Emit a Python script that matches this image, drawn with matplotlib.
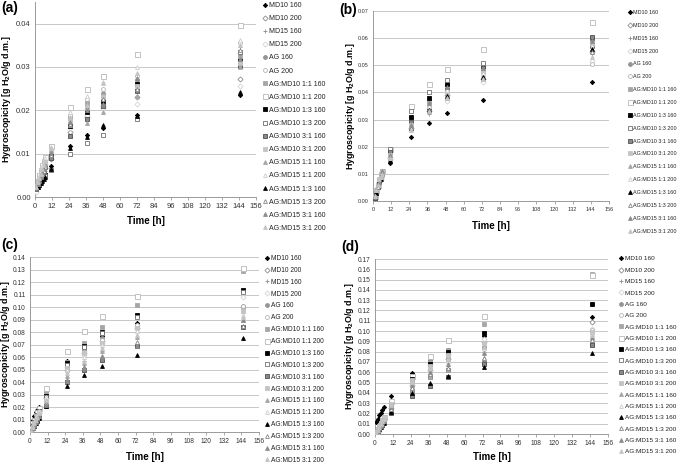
import matplotlib
matplotlib.use("Agg")
import matplotlib.pyplot as plt

plt.rcParams["font.family"] = ["Liberation Sans", "DejaVu Sans"]
plt.rcParams["mathtext.fontset"] = "custom"
plt.rcParams["mathtext.rm"] = "Liberation Sans"
plt.rcParams["mathtext.bf"] = "Liberation Sans:bold"

W, H = 677, 465

labels = ["MD10 160", "MD10 200", "MD15 160", "MD15 200", "AG 160", "AG 200",
          "AG:MD10 1:1 160", "AG:MD10 1:1 200", "AG:MD10 1:3 160", "AG:MD10 1:3 200",
          "AG:MD10 3:1 160", "AG:MD10 3:1 200", "AG:MD15 1:1 160", "AG:MD15 1:1 200",
          "AG:MD15 1:3 160", "AG:MD15 1:3 200", "AG:MD15 3:1 160", "AG:MD15 3:1 200"]

# time points [h]
times_a = [1, 2, 3, 4, 5, 6, 7, 11, 25, 37, 48, 72, 145]
times_b = [1, 2, 3, 4, 5, 6, 11, 25, 37, 49, 73, 145]
times_c = [1, 2, 3, 4, 5, 6, 11, 25, 37, 49, 73, 145]
times_d = [1, 2, 3, 4, 5, 6, 11, 25, 37, 49, 73, 145]

# hygroscopicity [g H2O/g d.m.], one row per series (order as labels)
vals_a = [
    [0.0022, 0.0025, 0.0030, 0.0035, 0.0040, 0.0043, 0.0047, 0.0072, 0.0118, 0.0143, 0.0160, 0.0190, 0.0235],
    [0.0020, 0.0030, 0.0038, 0.0045, 0.0052, 0.0060, 0.0068, 0.0088, 0.0150, 0.0185, 0.0210, 0.0230, 0.0272],
    [0.0021, 0.0032, 0.0040, 0.0048, 0.0056, 0.0064, 0.0072, 0.0100, 0.0170, 0.0210, 0.0240, 0.0250, 0.0345],
    [0.0012, 0.0025, 0.0035, 0.0045, 0.0055, 0.0065, 0.0075, 0.0098, 0.0160, 0.0190, 0.0205, 0.0215, 0.0255],
    [0.0025, 0.0035, 0.0045, 0.0055, 0.0065, 0.0075, 0.0085, 0.0110, 0.0185, 0.0220, 0.0240, 0.0270, 0.0330],
    [0.0020, 0.0032, 0.0044, 0.0056, 0.0068, 0.0080, 0.0090, 0.0117, 0.0190, 0.0225, 0.0250, 0.0280, 0.0355],
    [0.0024, 0.0034, 0.0044, 0.0054, 0.0064, 0.0074, 0.0082, 0.0108, 0.0180, 0.0215, 0.0235, 0.0260, 0.0320],
    [0.0026, 0.0038, 0.0050, 0.0062, 0.0073, 0.0083, 0.0092, 0.0118, 0.0207, 0.0250, 0.0280, 0.0330, 0.0398],
    [0.0018, 0.0024, 0.0030, 0.0036, 0.0042, 0.0046, 0.0050, 0.0095, 0.0163, 0.0197, 0.0222, 0.0260, 0.0313],
    [0.0019, 0.0023, 0.0028, 0.0034, 0.0040, 0.0045, 0.0049, 0.0062, 0.0100, 0.0124, 0.0143, 0.0180, 0.0335],
    [0.0023, 0.0030, 0.0038, 0.0046, 0.0054, 0.0062, 0.0070, 0.0090, 0.0140, 0.0180, 0.0210, 0.0245, 0.0302],
    [0.0024, 0.0033, 0.0042, 0.0051, 0.0060, 0.0069, 0.0078, 0.0105, 0.0175, 0.0205, 0.0230, 0.0255, 0.0310],
    [0.0022, 0.0031, 0.0040, 0.0049, 0.0058, 0.0066, 0.0074, 0.0105, 0.0165, 0.0170, 0.0195, 0.0232, 0.0300],
    [0.0023, 0.0036, 0.0048, 0.0060, 0.0071, 0.0081, 0.0090, 0.0115, 0.0195, 0.0232, 0.0265, 0.0300, 0.0362],
    [0.0020, 0.0024, 0.0028, 0.0032, 0.0037, 0.0041, 0.0045, 0.0065, 0.0112, 0.0138, 0.0165, 0.0188, 0.0242],
    [0.0021, 0.0029, 0.0037, 0.0045, 0.0053, 0.0061, 0.0069, 0.0098, 0.0168, 0.0205, 0.0225, 0.0250, 0.0340],
    [0.0022, 0.0030, 0.0039, 0.0048, 0.0057, 0.0065, 0.0073, 0.0102, 0.0172, 0.0200, 0.0215, 0.0275, 0.0318],
    [0.0024, 0.0034, 0.0044, 0.0054, 0.0064, 0.0073, 0.0082, 0.0112, 0.0185, 0.0212, 0.0262, 0.0285, 0.0350],
]

vals_b = [
    [0.001, 0.003, 0.005, 0.007, 0.009, 0.010, 0.014, 0.0235, 0.0288, 0.0325, 0.0372, 0.0440],
    [0.001, 0.003, 0.005, 0.007, 0.008, 0.010, 0.016, 0.027, 0.033, 0.039, 0.045, 0.055],
    [0.002, 0.004, 0.005, 0.007, 0.009, 0.010, 0.015, 0.026, 0.032, 0.038, 0.046, 0.054],
    [0.002, 0.004, 0.006, 0.008, 0.009, 0.011, 0.016, 0.026, 0.033, 0.037, 0.044, 0.0515],
    [0.002, 0.004, 0.006, 0.008, 0.009, 0.011, 0.017, 0.029, 0.036, 0.041, 0.048, 0.058],
    [0.002, 0.004, 0.006, 0.008, 0.010, 0.011, 0.018, 0.029, 0.035, 0.040, 0.047, 0.0505],
    [0.002, 0.004, 0.006, 0.008, 0.009, 0.011, 0.017, 0.030, 0.037, 0.042, 0.050, 0.059],
    [0.002, 0.004, 0.006, 0.008, 0.010, 0.011, 0.019, 0.035, 0.043, 0.0485, 0.056, 0.066],
    [0.001, 0.003, 0.005, 0.007, 0.009, 0.011, 0.018, 0.031, 0.038, 0.043, 0.049, 0.057],
    [0.001, 0.003, 0.005, 0.007, 0.009, 0.011, 0.019, 0.033, 0.040, 0.0445, 0.051, 0.060],
    [0.001, 0.003, 0.005, 0.007, 0.009, 0.011, 0.018, 0.029, 0.034, 0.041, 0.049, 0.0605],
    [0.002, 0.004, 0.006, 0.008, 0.009, 0.011, 0.017, 0.028, 0.035, 0.040, 0.048, 0.058],
    [0.002, 0.004, 0.005, 0.007, 0.009, 0.010, 0.016, 0.027, 0.034, 0.039, 0.046, 0.056],
    [0.002, 0.004, 0.006, 0.008, 0.009, 0.011, 0.017, 0.028, 0.035, 0.041, 0.047, 0.057],
    [0.002, 0.003, 0.005, 0.007, 0.008, 0.010, 0.015, 0.027, 0.0335, 0.0385, 0.0455, 0.056],
    [0.002, 0.004, 0.005, 0.007, 0.009, 0.010, 0.016, 0.027, 0.033, 0.038, 0.045, 0.055],
    [0.002, 0.004, 0.006, 0.007, 0.009, 0.011, 0.017, 0.028, 0.036, 0.042, 0.049, 0.059],
    [0.002, 0.004, 0.006, 0.008, 0.009, 0.010, 0.016, 0.026, 0.033, 0.038, 0.045, 0.053],
]

vals_c = [
    [0.004, 0.010, 0.013, 0.016, 0.018, 0.020, 0.033, 0.057, 0.069, 0.077, 0.087, 0.101],
    [0.002, 0.004, 0.007, 0.010, 0.013, 0.015, 0.027, 0.050, 0.063, 0.073, 0.083, 0.100],
    [0.002, 0.005, 0.008, 0.011, 0.014, 0.016, 0.028, 0.048, 0.057, 0.065, 0.080, 0.095],
    [0.001, 0.004, 0.007, 0.010, 0.013, 0.016, 0.029, 0.052, 0.062, 0.071, 0.085, 0.108],
    [0.002, 0.005, 0.008, 0.011, 0.014, 0.017, 0.030, 0.053, 0.066, 0.075, 0.085, 0.098],
    [0.002, 0.005, 0.008, 0.011, 0.014, 0.017, 0.029, 0.052, 0.064, 0.074, 0.086, 0.101],
    [0.002, 0.005, 0.009, 0.012, 0.015, 0.018, 0.031, 0.056, 0.071, 0.084, 0.102, 0.129],
    [0.003, 0.006, 0.010, 0.013, 0.016, 0.019, 0.035, 0.065, 0.081, 0.093, 0.109, 0.131],
    [0.002, 0.005, 0.008, 0.011, 0.014, 0.017, 0.029, 0.055, 0.069, 0.080, 0.094, 0.114],
    [0.002, 0.005, 0.008, 0.011, 0.014, 0.017, 0.028, 0.054, 0.068, 0.079, 0.092, 0.112],
    [0.001, 0.003, 0.006, 0.008, 0.010, 0.012, 0.021, 0.040, 0.050, 0.058, 0.069, 0.084],
    [0.002, 0.004, 0.007, 0.010, 0.013, 0.016, 0.026, 0.051, 0.063, 0.071, 0.083, 0.097],
    [0.001, 0.004, 0.007, 0.010, 0.012, 0.015, 0.025, 0.045, 0.055, 0.065, 0.076, 0.090],
    [0.002, 0.005, 0.008, 0.011, 0.014, 0.017, 0.028, 0.050, 0.060, 0.070, 0.081, 0.094],
    [0.001, 0.003, 0.005, 0.007, 0.009, 0.011, 0.021, 0.037, 0.046, 0.053, 0.062, 0.075],
    [0.001, 0.003, 0.006, 0.009, 0.011, 0.013, 0.023, 0.042, 0.052, 0.061, 0.072, 0.085],
    [0.001, 0.003, 0.006, 0.008, 0.011, 0.013, 0.022, 0.041, 0.051, 0.060, 0.069, 0.090],
    [0.001, 0.004, 0.007, 0.010, 0.012, 0.015, 0.026, 0.047, 0.057, 0.067, 0.078, 0.092],
]

vals_d = [
    [0.012, 0.015, 0.018, 0.020, 0.023, 0.026, 0.037, 0.059, 0.072, 0.082, 0.095, 0.114],
    [0.001, 0.003, 0.006, 0.009, 0.012, 0.014, 0.025, 0.048, 0.062, 0.073, 0.089, 0.109],
    [0.001, 0.003, 0.005, 0.008, 0.010, 0.013, 0.022, 0.045, 0.058, 0.066, 0.080, 0.100],
    [0.002, 0.004, 0.007, 0.010, 0.013, 0.016, 0.030, 0.053, 0.068, 0.078, 0.092, 0.102],
    [0.001, 0.004, 0.007, 0.010, 0.013, 0.016, 0.028, 0.051, 0.066, 0.075, 0.085, 0.099],
    [0.002, 0.004, 0.007, 0.010, 0.013, 0.016, 0.028, 0.050, 0.064, 0.072, 0.083, 0.101],
    [0.002, 0.005, 0.008, 0.011, 0.014, 0.017, 0.030, 0.055, 0.070, 0.082, 0.107, 0.155],
    [0.002, 0.005, 0.008, 0.011, 0.014, 0.017, 0.032, 0.056, 0.076, 0.091, 0.115, 0.154],
    [0.001, 0.003, 0.006, 0.009, 0.011, 0.014, 0.028, 0.053, 0.068, 0.080, 0.098, 0.126],
    [0.001, 0.003, 0.006, 0.008, 0.010, 0.013, 0.022, 0.042, 0.055, 0.062, 0.069, 0.087],
    [0.001, 0.003, 0.006, 0.008, 0.010, 0.012, 0.020, 0.037, 0.047, 0.055, 0.068, 0.086],
    [0.002, 0.004, 0.007, 0.010, 0.013, 0.016, 0.029, 0.052, 0.066, 0.077, 0.088, 0.099],
    [0.001, 0.003, 0.006, 0.009, 0.011, 0.013, 0.024, 0.043, 0.055, 0.062, 0.074, 0.093],
    [0.001, 0.004, 0.007, 0.010, 0.012, 0.015, 0.027, 0.050, 0.063, 0.071, 0.080, 0.097],
    [0.001, 0.003, 0.005, 0.007, 0.009, 0.011, 0.021, 0.040, 0.050, 0.056, 0.065, 0.079],
    [0.001, 0.003, 0.006, 0.008, 0.010, 0.013, 0.024, 0.045, 0.058, 0.064, 0.074, 0.091],
    [0.001, 0.004, 0.006, 0.009, 0.012, 0.014, 0.026, 0.048, 0.060, 0.068, 0.079, 0.094],
    [0.002, 0.004, 0.007, 0.010, 0.013, 0.015, 0.028, 0.051, 0.064, 0.073, 0.085, 0.096],
]

# marker, face, edge, size
styles = [
    ("D", "black", "black", 2.2),
    ("D", "white", "#8c8c8c", 2.6),
    ("+", "#8c8c8c", "#8c8c8c", 3.2),
    ("D", "white", "#d4d4d4", 2.6),
    ("o", "#959595", "#959595", 2.8),
    ("o", "white", "#b4b4b4", 2.8),
    ("s", "#a6a6a6", "#a6a6a6", 3.0),
    ("s", "white", "#b8b8b8", 3.6),
    ("s", "black", "black", 3.0),
    ("s", "white", "#707070", 3.2),
    ("s", "#8a8a8a", "#4f4f4f", 3.2),
    ("s", "#c4c4c4", "#c4c4c4", 3.0),
    ("^", "#a6a6a6", "#a6a6a6", 2.8),
    ("^", "white", "#cccccc", 2.8),
    ("^", "black", "black", 2.8),
    ("^", "white", "#858585", 2.8),
    ("^", "#8c8c8c", "#8c8c8c", 2.8),
    ("^", "#c4c4c4", "#c4c4c4", 2.8),
]

fig = plt.figure(figsize=(W / 100, H / 100), dpi=100)


def px_axes(l, r, t, b):
    return fig.add_axes([l / W, 1 - b / H, (r - l) / W, (b - t) / H])


def panel(box, times, vals, ymax, tickfs, ylab_x, xlab_y,
          tag, tag_xy, leg_xy, leg_fs, leg_sp):
    l, r, t, b = box
    ax = px_axes(l, r, t, b)
    for i, row in enumerate(vals):
        m, fc, ec, ms = styles[i]
        ax.plot(times, row, linestyle="none", marker=m, markerfacecolor=fc,
                markeredgecolor=ec, markersize=ms, markeredgewidth=0.6,
                label=labels[i], zorder=3)
    ax.set_xlim(0, 156)
    ax.set_ylim(0, ymax)
    ax.set_xticks(range(0, 157, 12))
    n = int(round(ymax / 0.01))
    ax.set_yticks([k * 0.01 for k in range(n + 1)])
    ax.set_yticklabels(["{:.2f}".format(k * 0.01) for k in range(n + 1)])
    ax.grid(axis="y", color="#c8c8c8", linewidth=0.7)
    ax.set_axisbelow(True)
    for s in ["top", "right"]:
        ax.spines[s].set_visible(False)
    for s in ["left", "bottom"]:
        ax.spines[s].set_color("#9a9a9a")
        ax.spines[s].set_linewidth(0.7)
    ax.tick_params(axis="x", length=2.5, width=0.6, color="#9a9a9a",
                   labelsize=tickfs, pad=2, labelcolor="#333333")
    ax.tick_params(axis="y", length=0, labelsize=tickfs, pad=3,
                   labelcolor="#333333")
    ax.set_ylabel("Hygroscopicity [g H$_\\mathbf{2}$O/g d.m.]",
                  fontsize=6.4, fontweight="bold")
    ax.yaxis.set_label_coords((ylab_x - l) / (r - l), 0.5)
    ax.set_xlabel("Time [h]", fontsize=7, fontweight="bold")
    ax.xaxis.set_label_coords(0.5, -(xlab_y - b) / (b - t))
    fig.text(tag_xy[0] / W, 1 - tag_xy[1] / H, tag, fontsize=10,
             fontweight="bold", va="center", ha="left")
    h, lb = ax.get_legend_handles_labels()
    fig.legend(h, lb, loc="upper left",
               bbox_to_anchor=(leg_xy[0] / W, 1 - leg_xy[1] / H),
               frameon=False, fontsize=leg_fs, labelspacing=leg_sp,
               handlelength=0.6, handletextpad=0.3, borderpad=0,
               borderaxespad=0, labelcolor="#222222")
    return ax


panel((35, 256, 2, 197), times_a, vals_a, 0.045, 5.5,
      13, 216, "(a)", (1, 8), (263, 2), 5.0, 0.88)
panel((373, 609, 11, 201), times_b, vals_b, 0.07, 4.0,
      357, 221, "(b)", (339, 10), (628, 10), 3.9, 1.45)
panel((30, 259, 257, 432), times_c, vals_c, 0.14, 4.8,
      12, 452, "(c)", (1, 245), (265, 255), 4.8, 0.73)
panel((375, 608, 259, 434), times_d, vals_d, 0.17, 4.8,
      356, 452, "(d)", (341, 247), (619, 256), 4.6, 0.92)

fig.savefig("out.png", dpi=100)
